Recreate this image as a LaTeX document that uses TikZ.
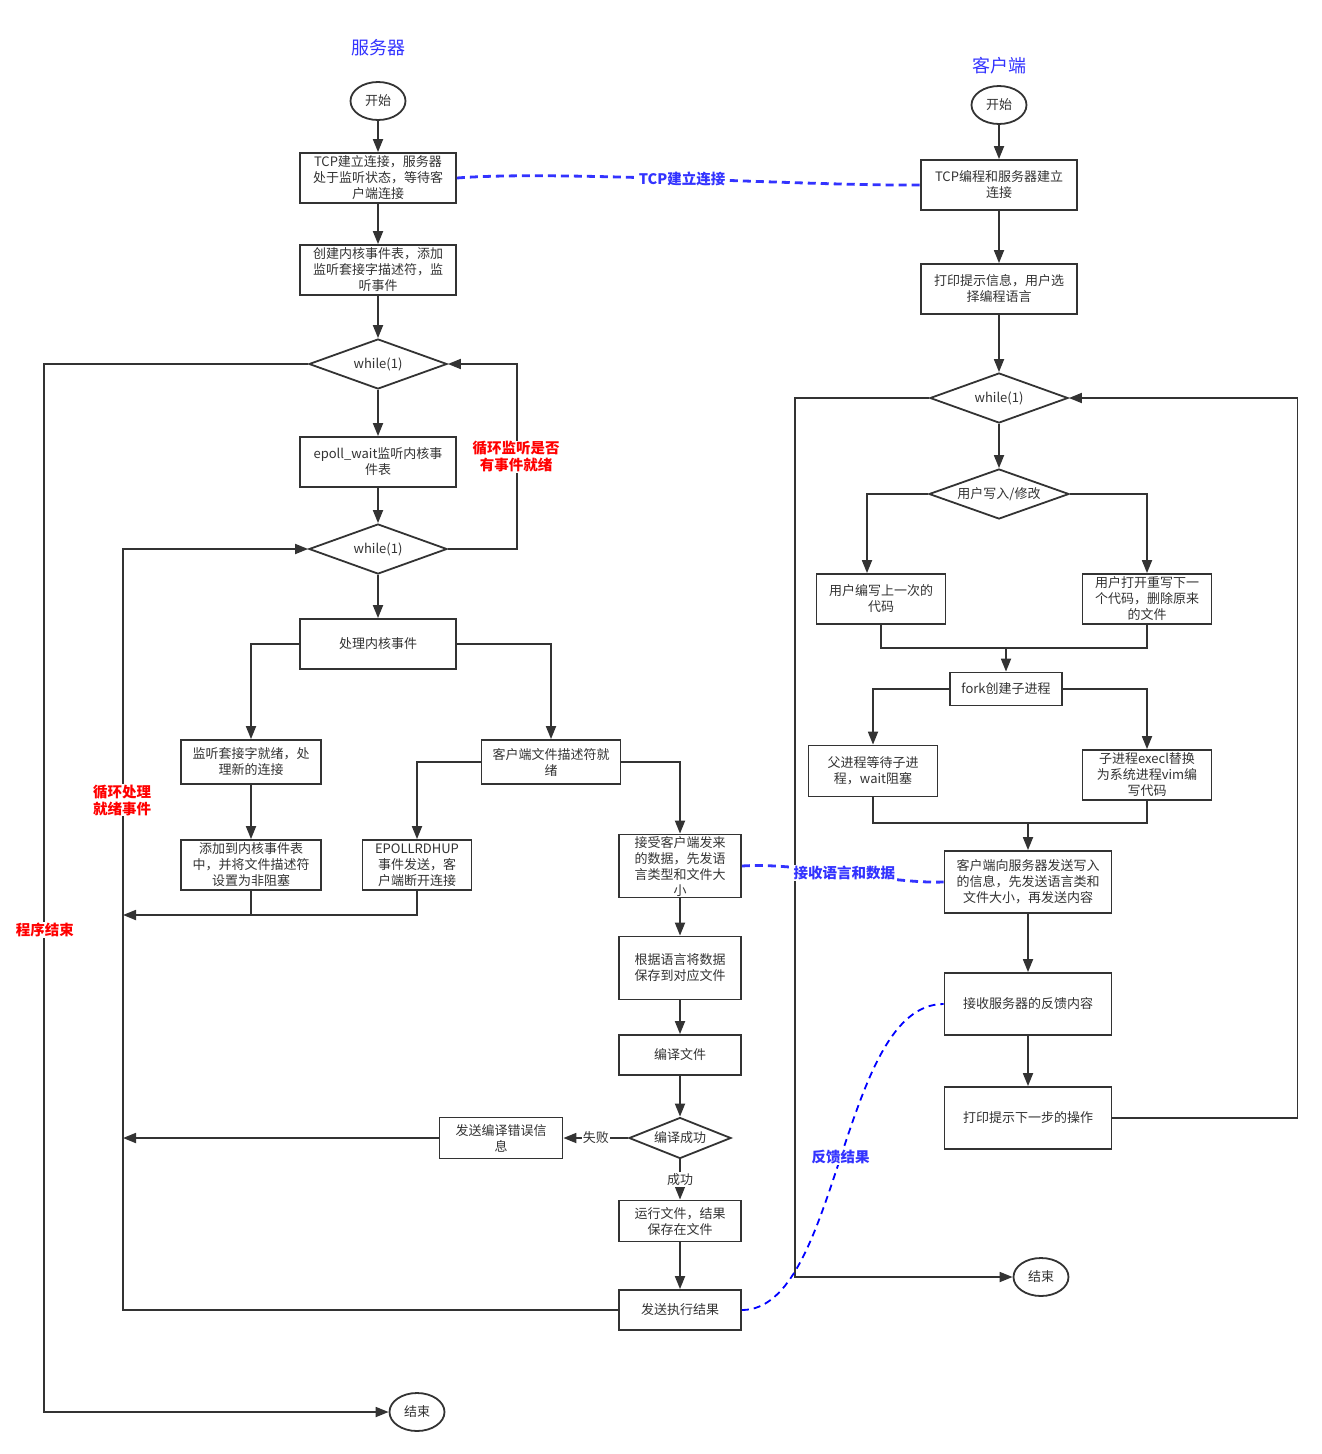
\documentclass[tikz,border=0pt]{standalone}
\usepackage{fontspec}
\setmainfont{Noto Sans CJK SC}
\usepackage{xcolor}
\usepackage{tikz}
\usetikzlibrary{shapes.geometric,arrows.meta}

\definecolor{linegray}{HTML}{333333}
\definecolor{titleblue}{HTML}{3333FF}
\definecolor{noteblue}{HTML}{0000FF}
\definecolor{notered}{HTML}{FF0000}
\newcommand\flowfont{\fontsize{13pt}{16pt}\selectfont}
\newcommand\notefont{\bfseries\fontsize{14.5pt}{17pt}\selectfont}

\begin{document}
\begin{tikzpicture}[x=1pt,y=-1pt,
	box/.style={draw=linegray, line width=1.8pt, text=linegray, font=\flowfont, align=center, inner sep=0pt, minimum width=156pt, minimum height=50pt},
	dia/.style={diamond, draw=linegray, line width=1.8pt, text=linegray, font=\flowfont, inner sep=0pt, aspect=2.76, minimum width=138pt, minimum height=50pt},
	term/.style={ellipse, draw=linegray, line width=1.8pt, text=linegray, font=\flowfont, inner sep=0pt, minimum width=55pt, minimum height=38pt},
	arr/.style={draw=linegray, line width=1.8pt, -{Triangle[length=13pt,width=10pt]}},
	wire/.style={draw=linegray, line width=1.8pt},
	tcpline/.style={draw=titleblue, line width=2.8pt, dash pattern=on 8pt off 5pt},
	fbline/.style={draw=noteblue, line width=1.8pt, dash pattern=on 7pt off 5pt},
	title/.style={text=titleblue, font=\fontsize{18pt}{20pt}\selectfont},
	redlbl/.style={text=notered, font=\notefont, fill=white, align=center, inner sep=1pt},
	bluelbl/.style={text=titleblue, font=\notefont, fill=white, inner sep=1pt},
	edgelbl/.style={text=linegray, font=\flowfont, fill=white, inner sep=1pt}]
	\useasboundingbox[fill=white] (0,0) rectangle (1322,1454);

	% server
	\node[title] (ttlS) at (378,48) {服务器};
	\node[term] (s0) at (378,101) {开始};
	\node[box] (s1) at (378,178) {TCP建立连接，服务器\\处于监听状态，等待客\\户端连接};
	\node[box] (s2) at (378,270) {创建内核事件表，添加\\监听套接字描述符，监\\听事件};
	\node[dia] (sw1) at (378,364) {while(1)};
	\node[box] (s3) at (378,462) {epoll\_wait监听内核事\\件表};
	\node[dia] (sw2) at (378,549) {while(1)};
	\node[box] (s4) at (378,644) {处理内核事件};
	\node[box, minimum width=140pt, minimum height=44pt] (s5) at (251,762) {监听套接字就绪，处\\理新的连接};
	\node[box, minimum width=139pt, minimum height=44pt] (s6) at (551,762) {客户端文件描述符就\\绪};
	\node[box, minimum width=140pt] (s7) at (251,865) {添加到内核事件表\\中，并将文件描述符\\设置为非阻塞};
	\node[box, minimum width=109pt] (s8) at (417,865) {EPOLLRDHUP\\事件发送，客\\户端断开连接};
	\node[box, minimum width=122pt, minimum height=63pt] (s9) at (680,866) {接受客户端发来\\的数据，先发语\\言类型和文件大\\小};
	\node[box, minimum width=122pt, minimum height=63pt] (s10) at (680,968) {根据语言将数据\\保存到对应文件};
	\node[box, minimum width=122pt, minimum height=40pt] (s11) at (680,1055) {编译文件};
	\node[dia, aspect=2.49, minimum width=102pt, minimum height=41pt] (sok) at (680,1138) {编译成功};
	\node[box, minimum width=123pt, minimum height=41pt] (s12) at (501,1138) {发送编译错误信\\息};
	\node[box, minimum width=122pt, minimum height=41pt] (s13) at (680,1221) {运行文件，结果\\保存在文件};
	\node[box, minimum width=122pt, minimum height=40pt] (s14) at (680,1310) {发送执行结果};
	\node[term] (s15) at (417,1412) {结束};

	\draw[arr] (s0) -- (s1);
	\draw[arr] (s1) -- (s2);
	\draw[arr] (s2) -- (sw1);
	\draw[arr] (sw1) -- (s3);
	\draw[arr] (s3) -- (sw2);
	\draw[arr] (sw2) -- (s4);
	\draw[arr] (s4.west) -| (s5.north);
	\draw[arr] (s4.east) -| (s6.north);
	\draw[arr] (s5) -- (s7);
	\draw[arr] (s6.west) -| (s8.north);
	\draw[arr] (s6.east) -| (s9.north);
	\draw[arr] (s9) -- (s10);
	\draw[arr] (s10) -- (s11);
	\draw[arr] (s11) -- (sok);
	\draw[arr] (sok.west) -- (s12.east) node[edgelbl, midway] (lblFail) {失败};
	\draw[arr] (sok.south) -- (s13.north) node[edgelbl, midway] (lblOk) {成功};
	\draw[arr] (s13) -- (s14);

	\coordinate (jn1) at (123,915);
	\draw[arr] (s7.south) |- (jn1);
	\draw[wire] (s8.south) |- (s7.south |- jn1);
	\draw[arr] (s12.west) -- (s12.west -| jn1);
	\draw[arr] (s14.west) -| (jn1) |- (sw2.west);
	\draw[arr] (sw2.east) -- ++(69,0) |- (sw1.east);
	\draw[arr] (sw1.west) -- ++(-264,0) |- (s15.west);
	\node[redlbl] (lblLoop1) at (516,457) {循环监听是否\\有事件就绪};
	\node[redlbl] (lblLoop2) at (122,800) {循环处理\\就绪事件};
	\node[redlbl] (lblEnd) at (45,930) {程序结束};

	% client
	\node[title] (ttlC) at (999,66) {客户端};
	\node[term] (c0) at (999,105) {开始};
	\node[box] (c1) at (999,185) {TCP编程和服务器建立\\连接};
	\node[box] (c2) at (999,289) {打印提示信息，用户选\\择编程语言};
	\node[dia] (cw) at (999,398) {while(1)};
	\node[dia, aspect=2.8, minimum width=140pt] (cu) at (999,494) {用户写入/修改};
	\node[box, minimum width=129pt] (c3) at (881,599) {用户编写上一次的\\代码};
	\node[box, minimum width=129pt] (c4) at (1147,599) {用户打开重写下一\\个代码，删除原来\\的文件};
	\node[box, minimum width=112pt, minimum height=33pt] (c5) at (1006,689) {fork创建子进程};
	\node[box, minimum width=129pt, minimum height=51pt] (c6) at (873,771) {父进程等待子进\\程，wait阻塞};
	\node[box, minimum width=129pt] (c7) at (1147,775) {子进程execl替换\\为系统进程vim编\\写代码};
	\node[box, minimum width=167pt, minimum height=62pt] (c8) at (1028,882) {客户端向服务器发送写入\\的信息，先发送语言类和\\文件大小，再发送内容};
	\node[box, minimum width=167pt, minimum height=62pt] (c9) at (1028,1004) {接收服务器的反馈内容};
	\node[box, minimum width=167pt, minimum height=62pt] (c10) at (1028,1118) {打印提示下一步的操作};
	\node[term] (c11) at (1041,1277) {结束};

	\draw[arr] (c0) -- (c1);
	\draw[arr] (c1) -- (c2);
	\draw[arr] (c2) -- (cw);
	\draw[arr] (cw) -- (cu);
	\draw[arr] (cu.west) -| ([xshift=-14pt]c3.north);
	\draw[arr] (cu.east) -| (c4.north);
	\coordinate (jn2) at (1006,648);
	\draw[wire] (c3.south) |- (jn2) -| (c4.south);
	\draw[arr] (jn2) -- (c5);
	\draw[arr] (c5.west) -| (c6.north);
	\draw[arr] (c5.east) -| (c7.north);
	\coordinate (jn3) at (1028,823);
	\draw[wire] (c6.south) |- (jn3) -| (c7.south);
	\draw[arr] (jn3) -- (c8);
	\draw[arr] (c8) -- (c9);
	\draw[arr] (c9) -- (c10);
	\draw[arr] (c10.east) -- ++(185,0) |- (cw.east);
	\draw[arr] (cw.west) -- ++(-134,0) |- (c11.west);

	% links between both sides
	\draw[tcpline] (s1.east) .. controls (560,170) and (800,186) .. (c1.west) node[bluelbl, midway] (lblTcp) {TCP建立连接};
	\draw[tcpline] (s9.east) .. controls (800,862) and (890,884) .. (c8.west) node[bluelbl, midway] (lblData) {接收语言和数据};
	\draw[fbline] (s14.east) .. controls (840,1310) and (840,1004) .. (c9.west) node[bluelbl, midway] (lblFb) {反馈结果};
\end{tikzpicture}
\end{document}
